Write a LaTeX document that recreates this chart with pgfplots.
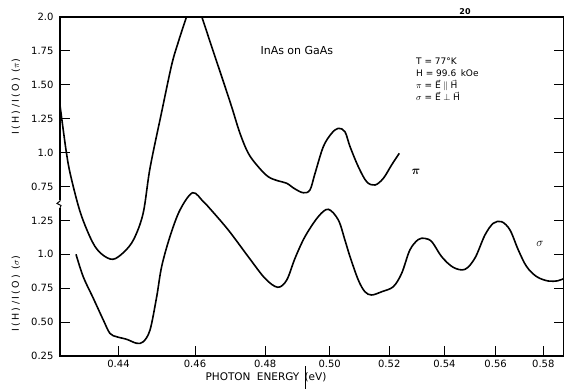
\documentclass[border=0pt]{standalone}
\usepackage{amsmath}
\usepackage{fontspec}
\setmainfont{DejaVu Sans}
\newfontfamily\spacedfont[LetterSpace=25]{DejaVu Sans}
\usepackage{pgfplots}
\usepackage{pgfplotstable}
\pgfplotsset{compat=1.18}

% pi polarisation: photon energy (eV), I(H)/I(0)
\pgfplotstableread{
E v
0.42583 1.351
0.42725 1.019
0.42831 0.835
0.43069 0.555
0.43359 0.341
0.43583 0.252
0.43862 0.213
0.44138 0.267
0.44390 0.363
0.44628 0.555
0.44801 0.886
0.45107 1.299
0.45371 1.646
0.45539 1.808
0.45773 2.002
0.45972 2.150
0.46183 2.002
0.46460 1.781
0.46741 1.560
0.47024 1.338
0.47262 1.145
0.47503 0.995
0.47796 0.896
0.48093 0.822
0.48394 0.791
0.48649 0.774
0.48904 0.732
0.49162 0.704
0.49372 0.724
0.49530 0.847
0.49794 1.044
0.50065 1.142
0.50279 1.179
0.50499 1.154
0.50664 1.044
0.50941 0.896
0.51224 0.785
0.51507 0.761
0.51793 0.810
0.52085 0.909
0.52353 0.995
}\pitable

% sigma polarisation
\pgfplotstableread{
E v
0.42962 1.000
0.43136 0.835
0.43378 0.676
0.43623 0.515
0.43788 0.417
0.43954 0.392
0.44205 0.373
0.44459 0.344
0.44628 0.355
0.44801 0.442
0.44976 0.687
0.45107 0.909
0.45326 1.130
0.45593 1.327
0.45936 1.454
0.46227 1.388
0.46365 1.351
0.46927 1.179
0.47503 0.982
0.47995 0.823
0.48376 0.757
0.48649 0.810
0.48904 0.970
0.49215 1.130
0.49635 1.277
0.49955 1.332
0.50279 1.253
0.50499 1.105
0.50664 0.982
0.50941 0.810
0.51166 0.724
0.51394 0.700
0.51737 0.724
0.52141 0.761
0.52438 0.860
0.52734 1.032
0.53034 1.109
0.53279 1.117
0.53537 1.091
0.53898 0.982
0.54337 0.904
0.54787 0.889
0.55178 0.973
0.55573 1.142
0.55906 1.229
0.56248 1.240
0.56588 1.179
0.56934 1.032
0.57288 0.909
0.57715 0.835
0.58218 0.803
0.58645 0.805
0.58914 0.822
}\sigmatable

\begin{document}
\begin{tikzpicture}
\useasboundingbox (-60pt,-33pt) rectangle (504pt,356pt);
\begin{axis}[
  at={(0pt,0pt)}, anchor=south west,
  scale only axis, width=504pt, height=339pt,
  xmin=-2.34827, xmax=-1.69736, ymin=0.25, ymax=2.75,
  x filter/.expression={-1/x},
  xtick={-2.272727,-2.173913,-2.083333,-2.0,-1.923077,-1.851852,-1.785714,-1.724138},
  xticklabels={0.44,0.46,0.48,0.50,0.52,0.54,0.56,0.58},
  ytick={0.25,0.5,0.75,1.0,1.25,1.5,1.75,2.0,2.25,2.5,2.75},
  yticklabels={0.25,0.50,0.75,1.0,1.25,0.75,1.0,1.25,1.50,1.75,2.0},
  xtick pos=bottom, ytick pos=both, tick align=inside,
  major tick length=10pt,
  axis line style={line width=1.1pt},
  every tick/.style={black, line width=1pt},
  ticklabel style={font=\fontsize{10}{12}\selectfont},
  yticklabel style={xshift=-3pt},
  xticklabel style={yshift=-0.5pt},
  clip=true,
]
\addplot[black, line width=1.6pt, smooth, tension=0.55]
  table[x=E, y expr=\thisrow{v}+0.75] {\pitable};
\addplot[black, line width=1.6pt, smooth, tension=0.55]
  table[x=E, y=v] {\sigmatable};
\end{axis}
% break mark on the left axis
\fill[white] (-1.5pt,148.5pt) rectangle (1.5pt,156.5pt);
\draw[line width=1pt] (0pt,157pt) -- (0pt,155pt) -- (-3pt,152.5pt) -- (1pt,150.5pt) -- (0pt,148pt);
% axis titles
\node[rotate=90, font=\spacedfont\fontsize{9.5}{11}\selectfont] at (-44pt,259pt) {I(H)/I(O) ($\pi$)};
\node[rotate=90, font=\spacedfont\fontsize{9.5}{11}\selectfont] at (-44pt,62pt) {I(H)/I(O) ($\sigma$)};
\node[font=\fontsize{10.5}{12}\selectfont] at (206pt,-21pt) {PHOTON\hspace{0.6em}ENERGY\hspace{0.5em}(eV)};
\draw[line width=0.8pt] (245pt,-10pt) -- (245pt,-33pt);
% annotations
\node[font=\bfseries\fontsize{8}{9}\selectfont] at (405pt,344pt) {20};
\node[anchor=west, font=\fontsize{11}{13}\selectfont] at (197pt,306pt) {InAs on GaAs};
\node[anchor=base west, inner sep=0pt, font=\fontsize{9}{10}\selectfont] at (356pt,291pt) {T = 77°K};
\node[anchor=base west, inner sep=0pt, font=\fontsize{9}{10}\selectfont] at (356pt,279.5pt) {H = 99.6\hspace{0.5em}kOe};
\node[anchor=base west, inner sep=0pt, font=\fontsize{9}{10}\selectfont] at (356pt,267pt) {$\pi$ = $\vec{\mbox{E}}\parallel\vec{\mbox{H}}$};
\node[anchor=base west, inner sep=0pt, font=\fontsize{9}{10}\selectfont] at (356pt,255pt) {$\sigma$ = $\vec{\mbox{E}}\perp\vec{\mbox{H}}$};
\node[font=\fontsize{12}{14}\selectfont] at (356pt,184pt) {$\boldsymbol{\pi}$};
\node[font=\fontsize{12}{14}\selectfont] at (480pt,112pt) {$\sigma$};
\end{tikzpicture}
\end{document}
